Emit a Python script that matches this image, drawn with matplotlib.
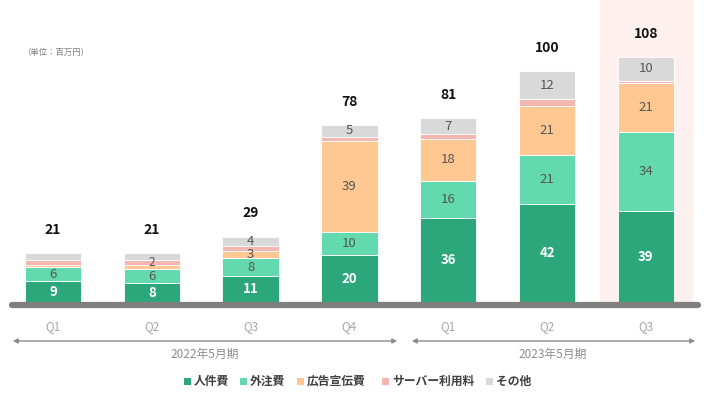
import matplotlib.pyplot as plt
from matplotlib.patches import Rectangle

plt.rcParams['font.family'] = ['Noto Sans CJK JP', 'DejaVu Sans']

# data (百万円)
quarters = ['Q1', 'Q2', 'Q3', 'Q4', 'Q1', 'Q2', 'Q3']
personnel = [9, 8, 11, 20, 36, 42, 39]
outsourcing = [6, 6, 8, 10, 16, 21, 34]
advertising = [1, 2, 3, 39, 18, 21, 21]
server = [2, 2, 2, 2, 2, 3, 1]
other = [3, 3, 4, 5, 7, 12, 10]
totals = [21, 21, 29, 78, 81, 100, 108]
periods = ['2022年5月期', '2023年5月期']
names = ['人件費', '外注費', '広告宣伝費', 'サーバー利用料', 'その他']
colors = ['#2ca77b', '#63d9af', '#ffc893', '#f4b6b1', '#d9d9d9']
label_min = [1, 1, 2, 999, 4]   # smallest value that gets a number inside
text_colors = ['white', '#555555', '#555555', '#555555', '#555555']

W, H = 708, 393
fig = plt.figure(figsize=(W / 100, H / 100), dpi=100)
ax = fig.add_axes([0, 0, 1, 1])

# pixel -> data mapping: bar i centred at 53 + 98.8*i px, baseline at 302 px
px_x, x0 = 98.8, 53
px_y, base = 2.33, 302
ax.set_xlim((0 - x0) / px_x, (W - x0) / px_x)
ax.set_ylim((base - H) / px_y, base / px_y)
ax.axis('off')

def py(p):
    return (base - p) / px_y

def pxx(p):
    return (p - x0) / px_x

xs = list(range(len(quarters)))

# highlight latest quarter
ax.add_patch(Rectangle((pxx(600), py(304)), pxx(693) - pxx(600), py(0) - py(304),
                       facecolor='#fdf0ef', edgecolor='none', zorder=0))

series = [personnel, outsourcing, advertising, server, other]
bottoms = [0] * len(xs)
for vals, col, lmin, tc in zip(series, colors, label_min, text_colors):
    ax.bar(xs, vals, width=0.57, bottom=bottoms, color=col,
           edgecolor='white', linewidth=0.6, zorder=2)
    for i, v in enumerate(vals):
        if v >= lmin:
            if v >= 3:
                ax.text(i, bottoms[i] + v / 2, str(v), ha='center', va='center',
                        fontsize=9.5, color=tc,
                        fontweight='bold' if tc == 'white' else 'normal', zorder=3)
            else:
                # tiny segment: sit the number on its lower edge
                ax.text(i, bottoms[i] + 0.3, str(v), ha='center', va='bottom',
                        fontsize=8.5, color=tc, zorder=3)
    bottoms = [b + v for b, v in zip(bottoms, vals)]

for i, t in enumerate(totals):
    ax.text(i, bottoms[i] + 10, str(t), ha='center', va='center',
            fontsize=10, fontweight='bold', color='#111111')

# baseline
ax.plot([pxx(12), pxx(698)], [py(304.5)] * 2, color='#7f7f7f', lw=4.5,
        solid_capstyle='round', zorder=4)

# category labels
for i, q in enumerate(quarters):
    ax.text(i, py(327), q, ha='center', va='center', fontsize=8.5, color='#a6a6a6')

# period arrows
arrow_kw = dict(arrowstyle='<|-|>', color='#8c8c8c', lw=1, mutation_scale=7)
ax.annotate('', xy=(pxx(10), py(341)), xytext=(pxx(400), py(341)), arrowprops=arrow_kw)
ax.annotate('', xy=(pxx(409), py(341)), xytext=(pxx(698), py(341)), arrowprops=arrow_kw)
ax.text(pxx(205), py(354), periods[0], ha='center', va='center', fontsize=8.5, color='#8c8c8c')
ax.text(pxx(553), py(354), periods[1], ha='center', va='center', fontsize=8.5, color='#8c8c8c')

ax.text(pxx(22), py(52), '（単位：百万円）', ha='left', va='center', fontsize=6, color='#7f7f7f')

# legend
leg_x = [184, 240, 297, 382, 486]
for x, n, c in zip(leg_x, names, colors):
    ax.add_patch(Rectangle((pxx(x), py(385)), 7 / px_x, 7 / px_y, facecolor=c, edgecolor='none'))
    ax.text(pxx(x + 10), py(381), n, ha='left', va='center', fontsize=8.5,
            fontweight='bold', color='#404040')

fig.savefig('out.png', dpi=100)
